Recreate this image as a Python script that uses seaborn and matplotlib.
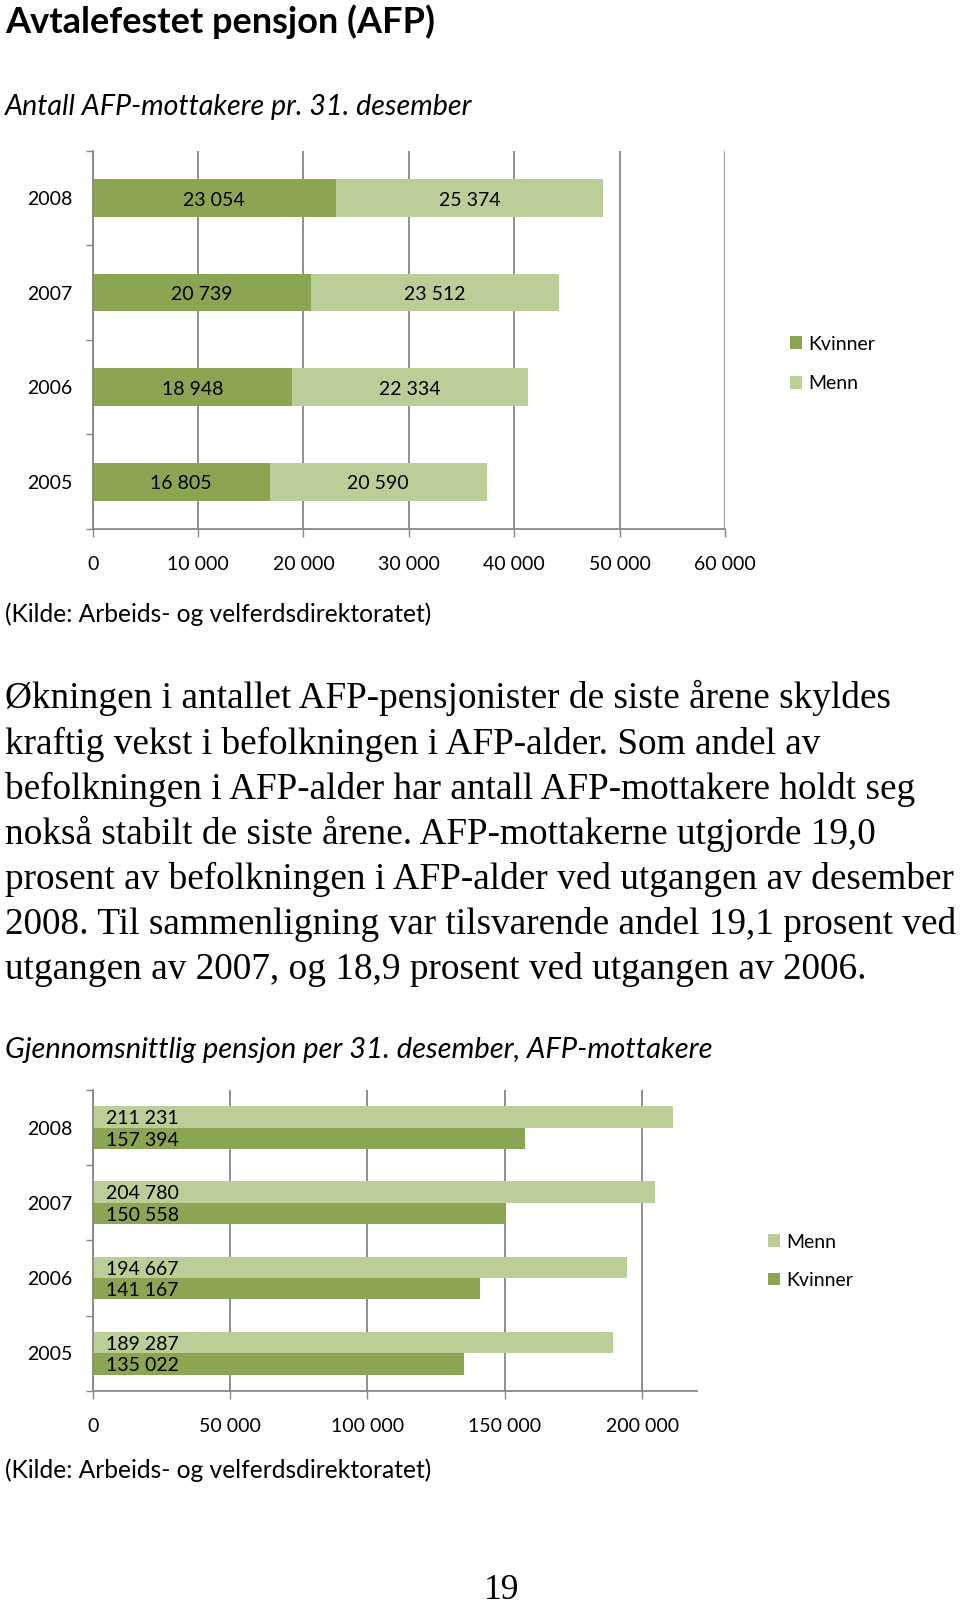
import matplotlib
matplotlib.use("Agg")
import matplotlib.pyplot as plt
import seaborn as sns
import pandas as pd

# ---------------- data ----------------
years = ["2008", "2007", "2006", "2005"]
kvinner_antall = [23054, 20739, 18948, 16805]
menn_antall = [25374, 23512, 22334, 20590]
menn_pensjon = [211231, 204780, 194667, 189287]
kvinner_pensjon = [157394, 150558, 141167, 135022]
x1_ticks = [0, 10000, 20000, 30000, 40000, 50000, 60000]
x2_ticks = [0, 50000, 100000, 150000, 200000]

title = "Avtalefestet pensjon (AFP)"
subtitle1 = "Antall AFP-mottakere pr. 31. desember"
subtitle2 = "Gjennomsnittlig pensjon per 31. desember, AFP-mottakere"
source = "(Kilde: Arbeids- og velferdsdirektoratet)"
paragraph_lines = [
    "Økningen i antallet AFP-pensjonister de siste årene skyldes",
    "kraftig vekst i befolkningen i AFP-alder. Som andel av",
    "befolkningen i AFP-alder har antall AFP-mottakere holdt seg",
    "nokså stabilt de siste årene. AFP-mottakerne utgjorde 19,0",
    "prosent av befolkningen i AFP-alder ved utgangen av desember",
    "2008. Til sammenligning var tilsvarende andel 19,1 prosent ved",
    "utgangen av 2007, og 18,9 prosent ved utgangen av 2006.",
]
page_number = "19"

DARK = "#8ba652"
LIGHT = "#bacf98"
GRID = "#878787"


def fmt(v):
    return f"{v:,}".replace(",", " ")


sns.set_theme(style="white")
plt.rcParams["font.family"] = ["Lato", "DejaVu Sans"]
plt.rcParams["text.color"] = "black"
plt.rcParams["xtick.labelcolor"] = "black"
plt.rcParams["ytick.labelcolor"] = "black"

W, H = 960, 1604
fig = plt.figure(figsize=(W / 100, H / 100), dpi=100)
renderer = fig.canvas.get_renderer()


def fx(x):
    return x / W


def fy(y):
    return 1 - y / H


def rect(l, t, r, b):
    return [l / W, 1 - b / H, (r - l) / W, (b - t) / H]


def fit_text(x, y, s, width, size=20, **kw):
    t = fig.text(fx(x), fy(y), s, fontsize=size, va="baseline", ha="left", **kw)
    w = t.get_window_extent(renderer).width
    t.set_fontsize(size * width / w)
    return t


FS = 14

# ---------------- texts ----------------
fit_text(5, 33, title, 431, weight="bold")
fit_text(5, 115, subtitle1, 467, style="italic")
fit_text(5, 622, source, 428)
fit_text(5, 1058, subtitle2, 707, style="italic")
fit_text(5, 1478, source, 428)

# paragraph: one common size fitted on the longest line
tmp = fig.text(0, 0, paragraph_lines[4], fontsize=20, family="Liberation Serif")
wl = tmp.get_window_extent(renderer).width
tmp.remove()
psize = 20 * 950 / wl
for i, line in enumerate(paragraph_lines):
    fig.text(fx(5), fy(708.5 + 45.1 * i), line, fontsize=psize,
             family="Liberation Serif", va="baseline", ha="left")
fig.text(fx(502), fy(1599), page_number, fontsize=psize * 0.95,
         family="Liberation Serif", va="baseline", ha="center")


def style_axes(ax, xticks, xmax):
    ax.set_xlim(0, xmax)
    ax.set_ylim(3.5, -0.5)
    ax.set_xticks(xticks, labels=[fmt(v) for v in xticks])
    ax.set_yticks(range(len(years)), labels=years)
    ax.set_yticks([-0.5, 0.5, 1.5, 2.5, 3.5], minor=True)
    ax.tick_params(axis="y", which="major", length=0, pad=14.3, labelsize=FS)
    ax.tick_params(axis="y", which="minor", length=5.2, width=1, color=GRID,
                   direction="out", left=True)
    ax.tick_params(axis="x", which="major", length=5.5, width=1, color=GRID,
                   direction="out", bottom=True, pad=14, labelsize=FS)
    ax.set_xlabel("")
    ax.set_ylabel("")
    ax.grid(axis="x", color=GRID, lw=1.3)
    ax.grid(axis="y", visible=False)
    ax.set_axisbelow(True)
    for s in ["top", "right"]:
        ax.spines[s].set_visible(False)
    for s in ["left", "bottom"]:
        ax.spines[s].set_color(GRID)
        ax.spines[s].set_linewidth(1.3)


# ---------------- chart 1 ----------------
ax1 = fig.add_axes(rect(92.7, 150.7, 725, 529))
df1 = pd.DataFrame({"År": years, "Kvinner": kvinner_antall, "Menn": menn_antall})
df1["Totalt"] = df1["Kvinner"] + df1["Menn"]
sns.barplot(data=df1, x="Totalt", y="År", order=years, orient="h", color=LIGHT,
            saturation=1, width=0.4, errorbar=None, linewidth=0, label="Menn", ax=ax1)
sns.barplot(data=df1, x="Kvinner", y="År", order=years, orient="h", color=DARK,
            saturation=1, width=0.4, errorbar=None, linewidth=0, label="Kvinner", ax=ax1)
style_axes(ax1, x1_ticks, 60000)

for p, k, m in zip(ax1.containers[1], kvinner_antall, menn_antall):
    yc = p.get_y() + p.get_height() / 2
    for xv, s in [(k / 2, fmt(k)), (k + m / 2, fmt(m))]:
        ax1.annotate(s, xy=(xv, yc), xytext=(0, -1.6), textcoords="offset points",
                     ha="center", va="center", fontsize=FS)

ax1.legend([ax1.containers[1], ax1.containers[0]], ["Kvinner", "Menn"],
           loc="center left", bbox_to_anchor=(fx(790), fy(364)),
           bbox_transform=fig.transFigure, frameon=False, fontsize=FS,
           handlelength=0.62, handleheight=0.62, handletextpad=0.3,
           labelspacing=1.18, borderpad=0, borderaxespad=0)

# ---------------- chart 2 ----------------
ax2 = fig.add_axes(rect(92.7, 1090, 697, 1390.7))
df2 = pd.DataFrame({
    "År": years * 2,
    "Kjønn": ["Menn"] * 4 + ["Kvinner"] * 4,
    "Pensjon": menn_pensjon + kvinner_pensjon,
})
sns.barplot(data=df2, x="Pensjon", y="År", hue="Kjønn", order=years,
            hue_order=["Menn", "Kvinner"], palette={"Menn": LIGHT, "Kvinner": DARK},
            saturation=1, width=0.57, errorbar=None, linewidth=0, orient="h", ax=ax2)
style_axes(ax2, x2_ticks, 220000)

for cont, vals in zip(ax2.containers, [menn_pensjon, kvinner_pensjon]):
    for p, v in zip(cont, vals):
        yc = p.get_y() + p.get_height() / 2
        ax2.annotate(fmt(v), xy=(0, yc), xytext=(9.5, -1.4), textcoords="offset points",
                     ha="left", va="center", fontsize=FS)

sns.move_legend(ax2, "center left", bbox_to_anchor=(fx(768), fy(1261.2)),
                bbox_transform=fig.transFigure, frameon=False, title=None,
                fontsize=FS, handlelength=0.62, handleheight=0.62,
                handletextpad=0.3, labelspacing=1.1, borderpad=0, borderaxespad=0)

fig.savefig("out.png", dpi=100)
